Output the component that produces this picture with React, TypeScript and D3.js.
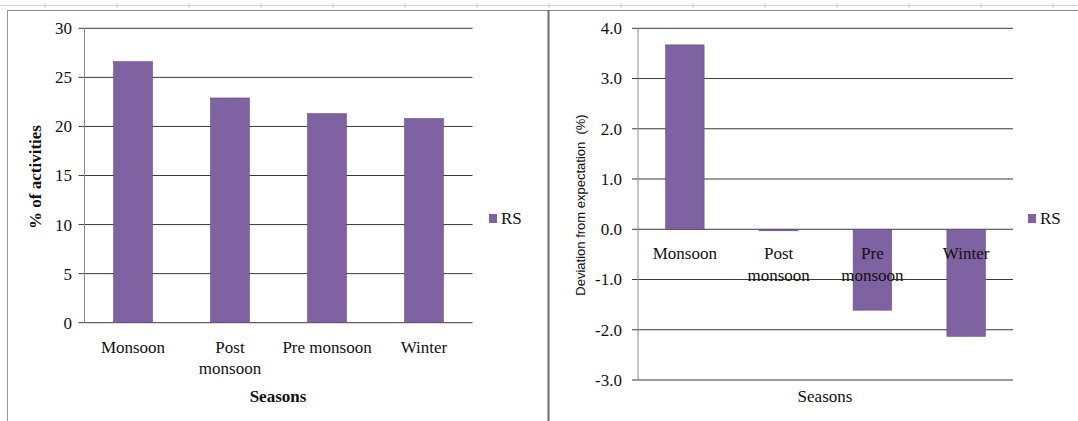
import React from "react";
import * as d3 from "d3";

const categories = ["Monsoon", "Post monsoon", "Pre monsoon", "Winter"];
const leftLabelLines = [["Monsoon"], ["Post", "monsoon"], ["Pre monsoon"], ["Winter"]];
const rightLabelLines = [["Monsoon"], ["Post", "monsoon"], ["Pre", "monsoon"], ["Winter"]];
const activityPct = [26.6, 22.9, 21.3, 20.8];
const deviationPct = [3.67, -0.03, -1.61, -2.13];
const leftTicks = [0, 5, 10, 15, 20, 25, 30];
const rightTicks = [-3, -2, -1, 0, 1, 2, 3, 4];
const seriesName = "RS";

const W = 1078;
const H = 421;
const BAR = "#7f62a1";
const BAR_EDGE = "#5f4a7c";
const GRID = "#3a3a3a";
const AXIS = "#8a8a8a";
const SERIF = "'Liberation Serif', 'Times New Roman', serif";
const SANS = "'Liberation Sans', Arial, sans-serif";

export default function App() {
  const xL = d3.scaleBand<string>().domain(categories).range([84.5, 472.5]).paddingInner(0.6).paddingOuter(0.3);
  const yL = d3.scaleLinear().domain([0, 30]).range([322.7, 28.3]);
  const xR = d3.scaleBand<string>().domain(categories).range([638, 1013]).paddingInner(0.59).paddingOuter(0.295);
  const yR = d3.scaleLinear().domain([-3, 4]).range([380, 28.3]);

  const fmt1 = (v: number) => d3.format(".1f")(v).replace("\u2212", "-");

  return (
    <svg width={W} height={H} style={{ position: "absolute", left: 0, top: 0, background: "#fff" }}>
      <rect x={0} y={0} width={W} height={H} fill="#fff" />
      <line x1={0} x2={W} y1={5.5} y2={5.5} stroke="#d6d6d6" />
      {d3.range(45, W, 72).map((x, i) => (
        <line key={"rt" + i} x1={x} x2={x} y1={3} y2={8} stroke="#d0d0d0" />
      ))}
      <line x1={7.5} x2={7.5} y1={10} y2={H} stroke="#9a9a9a" />
      <line x1={7} x2={W} y1={10.5} y2={10.5} stroke="#8a8a8a" />
      <line x1={548.5} x2={548.5} y1={10} y2={H} stroke="#6f6f6f" strokeWidth={2} />

      <g>
        {leftTicks.map((t) => (
          <g key={"lg" + t}>
            <line x1={xL.range()[0] - 6} x2={xL.range()[1]} y1={yL(t)} y2={yL(t)} stroke={GRID} strokeWidth={1} />
            <text x={72} y={yL(t)} dy="0.35em" textAnchor="end" fontFamily={SERIF} fontSize={17} fill="#111">
              {t}
            </text>
          </g>
        ))}
        <line x1={84.5} x2={84.5} y1={yL(30)} y2={yL(0)} stroke={AXIS} />
        {categories.map((c, i) => (
          <rect
            key={"lb" + c}
            x={xL(c)}
            y={yL(activityPct[i])}
            width={xL.bandwidth()}
            height={yL(0) - yL(activityPct[i])}
            fill={BAR}
            stroke={BAR_EDGE}
            strokeWidth={0.6}
          />
        ))}
        {categories.map((c, i) => (
          <text key={"lx" + c} textAnchor="middle" fontFamily={SERIF} fontSize={17} fill="#111">
            {leftLabelLines[i].map((ln, j) => (
              <tspan key={j} x={(xL(c) as number) + xL.bandwidth() / 2} y={353 + j * 21}>
                {ln}
              </tspan>
            ))}
          </text>
        ))}
        <text x={278} y={402} textAnchor="middle" fontFamily={SERIF} fontSize={17} fontWeight="bold" fill="#111">
          Seasons
        </text>
        <text
          transform={`translate(41,177) rotate(-90)`}
          textAnchor="middle"
          fontFamily={SERIF}
          fontSize={17}
          fontWeight="bold"
          fill="#111"
        >
          % of activities
        </text>
        <rect x={489} y={214} width={8} height={9} fill={BAR} />
        <text x={501} y={224} fontFamily={SERIF} fontSize={17} fill="#111">
          {seriesName}
        </text>
      </g>

      <g>
        {rightTicks.map((t) => (
          <g key={"rg" + t}>
            <line x1={xR.range()[0] - 6} x2={xR.range()[1]} y1={yR(t)} y2={yR(t)} stroke={GRID} strokeWidth={1} />
            <text x={622} y={yR(t)} dy="0.35em" textAnchor="end" fontFamily={SERIF} fontSize={17} fill="#111">
              {fmt1(t)}
            </text>
          </g>
        ))}
        <line x1={638} x2={638} y1={yR(4)} y2={yR(-3)} stroke={AXIS} />
        {categories.map((c, i) => {
          const v = deviationPct[i];
          const y0 = yR(0);
          const y1 = yR(v);
          return (
            <rect
              key={"rb" + c}
              x={xR(c)}
              y={Math.min(y0, y1)}
              width={xR.bandwidth()}
              height={Math.max(1, Math.abs(y1 - y0))}
              fill={BAR}
              stroke={BAR_EDGE}
              strokeWidth={0.6}
            />
          );
        })}
        {categories.map((c, i) => (
          <text key={"rx" + c} textAnchor="middle" fontFamily={SERIF} fontSize={17} fill="#111">
            {rightLabelLines[i].map((ln, j) => (
              <tspan key={j} x={(xR(c) as number) + xR.bandwidth() / 2} y={259 + j * 22}>
                {ln}
              </tspan>
            ))}
          </text>
        ))}
        <text x={825} y={402} textAnchor="middle" fontFamily={SERIF} fontSize={17} fill="#111">
          Seasons
        </text>
        <text
          transform={`translate(585,205) rotate(-90)`}
          textAnchor="middle"
          fontFamily={SANS}
          fontSize={13}
          fill="#111"
          xmlSpace="preserve"
        >
          {"Deviation from expectation  (%)"}
        </text>
        <rect x={1028} y={214} width={8} height={9} fill={BAR} />
        <text x={1040} y={224} fontFamily={SERIF} fontSize={17} fill="#111">
          {seriesName}
        </text>
      </g>
    </svg>
  );
}
